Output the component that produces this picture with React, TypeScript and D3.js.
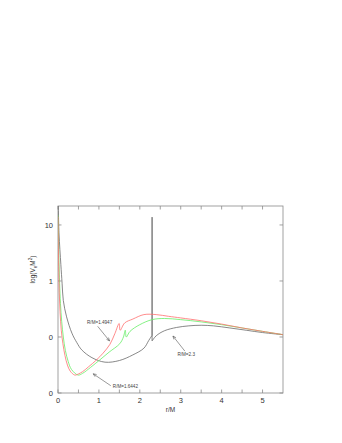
import React, { useRef, useEffect } from 'react';
import * as d3 from 'd3';

// r/M positions and V*M^2 values for each star
const redR = [0, 0.01, 0.02, 0.03, 0.05, 0.08, 0.12, 0.17, 0.23, 0.3, 0.41, 0.5, 0.6, 0.75, 0.94, 1.1, 1.27, 1.39, 1.4947, 1.52, 1.63, 1.83, 2.1, 2.4, 2.7, 3.0, 3.5, 4.0, 4.5, 5.0, 5.5];
const redV = [14.1, 3.98, 1.41, 0.631, 0.282, 0.132, 0.0759, 0.0468, 0.0316, 0.0245, 0.0209, 0.0219, 0.024, 0.0295, 0.0389, 0.0513, 0.0741, 0.115, 0.174, 0.132, 0.178, 0.209, 0.251, 0.251, 0.234, 0.219, 0.195, 0.17, 0.145, 0.126, 0.11];

const greenR = [0, 0.01, 0.02, 0.04, 0.06, 0.09, 0.13, 0.18, 0.25, 0.33, 0.49, 0.6, 0.8, 1.02, 1.25, 1.51, 1.6, 1.6442, 1.67, 1.76, 2.0, 2.3, 2.6, 3.0, 3.5, 4.0, 4.5, 5.0, 5.5];
const greenV = [15, 7.94, 2.82, 0.891, 0.398, 0.191, 0.1, 0.0575, 0.0363, 0.0263, 0.0209, 0.0224, 0.0288, 0.0389, 0.0537, 0.0759, 0.1, 0.132, 0.1, 0.126, 0.166, 0.204, 0.214, 0.204, 0.186, 0.166, 0.145, 0.126, 0.11];

const blackR = [0, 0.024, 0.07, 0.1, 0.13, 0.21, 0.34, 0.46, 0.58, 0.83, 1.15, 1.5, 1.83, 2.1, 2.22, 2.3, 2.3, 2.3, 2.4, 2.6, 2.9, 3.2, 3.5, 3.8, 4.2, 4.6, 5.0, 5.5];
const blackV = [39.8, 7.24, 1.95, 0.912, 0.447, 0.229, 0.117, 0.0794, 0.0589, 0.0427, 0.0355, 0.038, 0.0479, 0.0631, 0.0871, 0.107, 13.8, 0.0851, 0.105, 0.129, 0.148, 0.158, 0.162, 0.158, 0.145, 0.132, 0.12, 0.11];

const xTicks = [0, 0.5, 1, 1.5, 2, 2.5, 3, 3.5, 4, 4.5, 5];
const xLabels = [0, 1, 2, 3, 4, 5];
const yTicks = [0.01, 0.1, 1, 10];

// annotation labels: text, label anchor (data), arrow tail and head (data)
const notes = [
  { text: 'R/M=1.4947', at: [0.71, 0.17], from: [0.97, 0.155], to: [1.26, 0.085] },
  { text: 'R/M=1.6442', at: [1.34, 0.0125], from: [1.29, 0.0135], to: [0.86, 0.022] },
  { text: 'R/M=2.3', at: [2.92, 0.046], from: [3.1, 0.056], to: [2.81, 0.104] },
];

const App = () => {
  const svgRef = useRef<SVGSVGElement>(null);

  useEffect(() => {
    const svg = d3.select(svgRef.current);
    svg.selectAll('*').remove();

    const left = 58, right = 283, top = 206, bottom = 393;
    const frame = '#8a8a8a';
    const font = 'Liberation Sans, Arial, sans-serif';

    const x = d3.scaleLinear().domain([0, 5.5]).range([left, right]);
    const y = d3.scaleLog().domain([0.01, 21.8]).range([bottom, top]);

    svg.append('defs').append('clipPath').attr('id', 'plotclip')
      .append('rect')
      .attr('x', left).attr('y', top)
      .attr('width', right - left).attr('height', bottom - top);

    // frame
    svg.append('rect')
      .attr('x', left).attr('y', top)
      .attr('width', right - left).attr('height', bottom - top)
      .attr('fill', 'none').attr('stroke', frame).attr('stroke-width', 0.8);

    // ticks pointing inward on all sides
    const tl = 3.5;
    xTicks.forEach(t => {
      svg.append('line').attr('x1', x(t)).attr('x2', x(t)).attr('y1', bottom).attr('y2', bottom - tl)
        .attr('stroke', frame).attr('stroke-width', 0.8);
      svg.append('line').attr('x1', x(t)).attr('x2', x(t)).attr('y1', top).attr('y2', top + tl)
        .attr('stroke', frame).attr('stroke-width', 0.8);
    });
    yTicks.forEach(t => {
      svg.append('line').attr('x1', left).attr('x2', left + tl).attr('y1', y(t)).attr('y2', y(t))
        .attr('stroke', frame).attr('stroke-width', 0.8);
      svg.append('line').attr('x1', right).attr('x2', right - tl).attr('y1', y(t)).attr('y2', y(t))
        .attr('stroke', frame).attr('stroke-width', 0.8);
    });

    const fmt = d3.format('.0f');
    svg.append('g').selectAll('text').data(yTicks).join('text')
      .attr('x', left - 5).attr('y', d => y(d))
      .attr('dy', '0.35em').attr('text-anchor', 'end')
      .attr('font-family', font).attr('font-size', 7.5).attr('fill', '#333')
      .text(d => fmt(d));

    svg.append('g').selectAll('text').data(xLabels).join('text')
      .attr('x', d => x(d)).attr('y', bottom + 10)
      .attr('text-anchor', 'middle')
      .attr('font-family', font).attr('font-size', 7.5).attr('fill', '#333')
      .text(d => d);

    svg.append('text')
      .attr('x', (left + right) / 2).attr('y', bottom + 19)
      .attr('text-anchor', 'middle')
      .attr('font-family', font).attr('font-size', 6.5).attr('fill', '#333')
      .text('r/M');

    const yl = svg.append('text')
      .attr('transform', `translate(35,${(top + bottom) / 2 - 30}) rotate(-90)`)
      .attr('text-anchor', 'middle')
      .attr('font-family', font).attr('font-size', 6.5).attr('fill', '#333');
    yl.append('tspan').text('log(V');
    yl.append('tspan').attr('font-size', 4.5).attr('dy', 1.5).text('e');
    yl.append('tspan').attr('dy', -1.5).text('M');
    yl.append('tspan').attr('font-size', 4.5).attr('dy', -3).text('2');
    yl.append('tspan').attr('dy', 3).text(')');

    // curves: smooth runs, straight vertical jumps where r repeats
    const smooth = d3.line<[number, number]>()
      .x(d => x(d[0]))
      .y(d => y(d[1]))
      .curve(d3.curveCatmullRom.alpha(0.5));

    const buildPath = (pts: [number, number][]) => {
      const runs: [number, number][][] = [[pts[0]]];
      for (let i = 1; i < pts.length; i++) {
        if (pts[i][0] === pts[i - 1][0]) runs.push([pts[i]]);
        else runs[runs.length - 1].push(pts[i]);
      }
      let d = '';
      runs.forEach((run, k) => {
        if (k > 0) d += `L${x(run[0][0])},${y(run[0][1])}`;
        if (run.length > 1) {
          const seg = smooth(run) || '';
          d += k === 0 ? seg : seg.replace(/^M[^A-Za-z]*/, '');
        } else if (k === 0) {
          d += `M${x(run[0][0])},${y(run[0][1])}`;
        }
      });
      return d;
    };

    const series = [
      { r: blackR, v: blackV, color: '#6a6a6a' },
      { r: greenR, v: greenV, color: '#66ee66' },
      { r: redR, v: redV, color: '#ff6f6f' },
    ];
    const plot = svg.append('g').attr('clip-path', 'url(#plotclip)');
    series.forEach(s => {
      const pts = s.r.map((r, i) => [r, s.v[i]] as [number, number]);
      plot.append('path')
        .attr('fill', 'none')
        .attr('stroke', s.color)
        .attr('stroke-width', 0.8)
        .attr('d', buildPath(pts));
    });

    // annotations with arrows
    notes.forEach(n => {
      svg.append('text')
        .attr('x', x(n.at[0])).attr('y', y(n.at[1]))
        .attr('font-family', font).attr('font-size', 4.6).attr('fill', '#444')
        .text(n.text);
      const x1 = x(n.from[0]), y1 = y(n.from[1]);
      const x2 = x(n.to[0]), y2 = y(n.to[1]);
      svg.append('line').attr('x1', x1).attr('y1', y1).attr('x2', x2).attr('y2', y2)
        .attr('stroke', '#555').attr('stroke-width', 0.6);
      const a = Math.atan2(y2 - y1, x2 - x1);
      const h = 3.5, w = 0.4;
      const p1 = [x2 - h * Math.cos(a - w), y2 - h * Math.sin(a - w)];
      const p2 = [x2 - h * Math.cos(a + w), y2 - h * Math.sin(a + w)];
      svg.append('path')
        .attr('d', `M${p1[0]},${p1[1]}L${x2},${y2}L${p2[0]},${p2[1]}`)
        .attr('fill', 'none').attr('stroke', '#555').attr('stroke-width', 0.6);
    });
  }, []);

  return (
    <svg ref={svgRef} width={342} height={443}
      style={{ position: 'absolute', left: 0, top: 0, background: '#fff' }} />
  );
};

export default App;
